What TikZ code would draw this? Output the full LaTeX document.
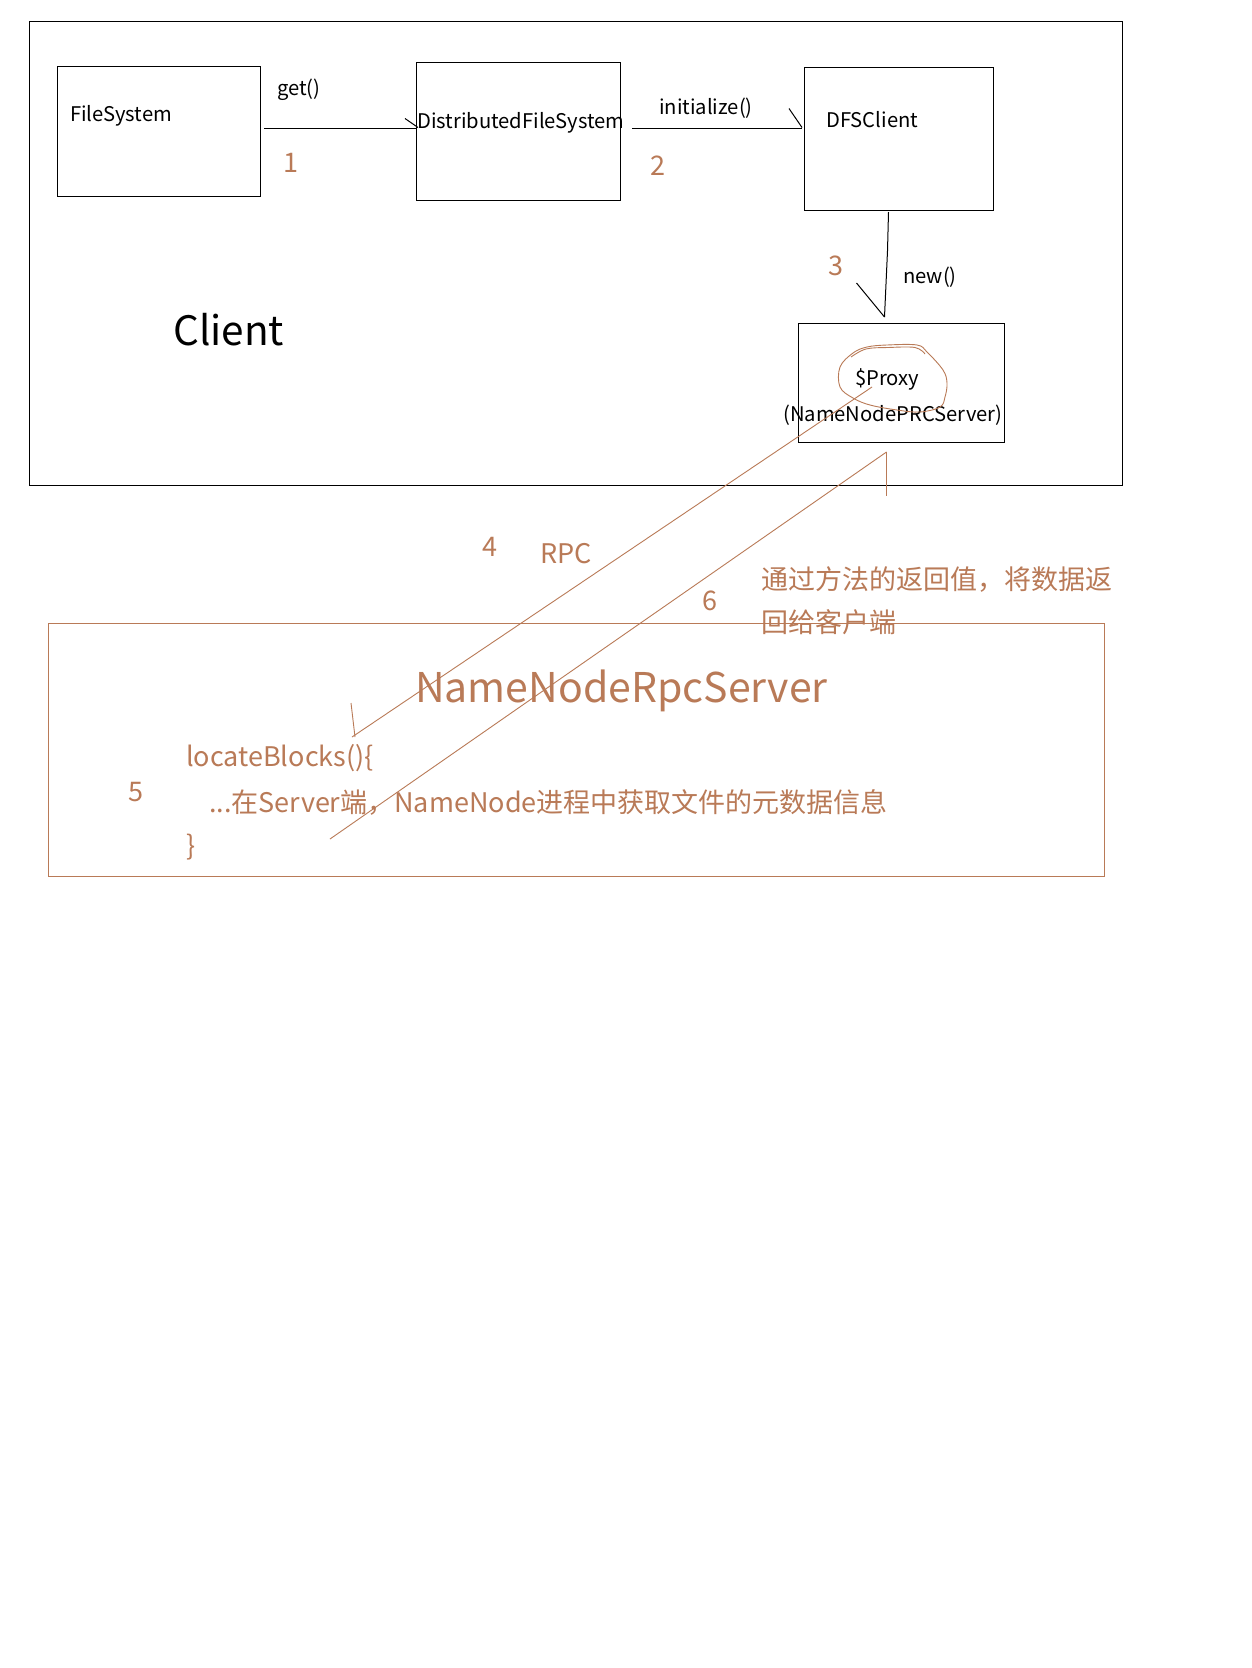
\documentclass[tikz,border=0pt]{standalone}
\usepackage{fontspec}
\setmainfont{Noto Sans CJK SC}
\definecolor{pbrown}{RGB}{185,122,87}
\begin{document}
\begin{tikzpicture}[x=1pt,y=-1pt,
  box/.style={draw, line width=1pt, inner sep=0pt, anchor=north west},
  lbl/.style={anchor=base west, inner sep=0pt, font=\fontsize{20.2}{24}\selectfont},
  olbl/.style={anchor=base west, inner sep=0pt, text=pbrown, font=\fontsize{27}{32}\selectfont},
  bline/.style={draw=black, line width=1pt},
  oline/.style={draw=pbrown, line width=0.9pt}]
\useasboundingbox (0,0) rectangle (1252,1668);
\fill[white] (0,0) rectangle (1252,1668);
% boxes
\node[box, minimum width=1093pt, minimum height=464pt] (client) at (29,21) {};
\node[box, minimum width=203pt, minimum height=130pt] (fs) at (57,66) {};
\node[box, minimum width=204pt, minimum height=138pt] (dfs) at (416,62) {};
\node[box, minimum width=189pt, minimum height=143pt] (dfsc) at (804,67) {};
\node[box, minimum width=206pt, minimum height=119pt] (proxy) at (798,323) {};
\node[box, draw=pbrown, minimum width=1056pt, minimum height=253pt] (server) at (47.5,623) {};
% black labels
\node[lbl] (tfs) at (70,121.5) {FileSystem};
\node[lbl] (tget) at (277,95) {get()};
\node[lbl] (tdfs) at (417,128) {DistributedFileSystem};
\node[lbl] (tinit) at (659,114) {initialize()};
\node[lbl] (tdfsc) at (826,127) {DFSClient};
\node[lbl] (tnew) at (903,283) {new()};
\node[lbl] (tproxy) at (855,385) {\$Proxy};
\node[lbl] (tnnprc) at (783,421) {(NameNodePRCServer)};
\node[anchor=base west, inner sep=0pt, font=\fontsize{40.5}{48}\selectfont] (tclient) at (173,345) {Client};
% orange labels
\node[olbl] (n1) at (283,172) {1};
\node[olbl] (n2) at (650,175) {2};
\node[olbl] (n3) at (828,275) {3};
\node[olbl] (n4) at (482,556) {4};
\node[olbl] (trpc) at (540,563) {RPC};
\node[olbl] (n6) at (702,610) {6};
\node[olbl] (tret1) at (761,589) {通过方法的返回值，将数据返};
\node[olbl] (tret2) at (761,632) {回给客户端};
\node[anchor=base west, inner sep=0pt, text=pbrown, font=\fontsize{41}{48}\selectfont] (tnnrpc) at (415,702) {NameNodeRpcServer};
\node[olbl] (tloc) at (186,766) {locateBlocks()\{};
\node[olbl] (n5) at (128,801) {5};
\node[olbl] (tbody) at (209,812) {...在Server端，NameNode进程中获取文件的元数据信息};
\node[olbl] (tclose) at (186,855) {\}};
% connector 1
\draw[bline] ([xshift=3pt,yshift=3pt]fs.east) -- ([yshift=3pt]dfs.west);
\draw[bline] ([xshift=-11pt,yshift=13pt]dfs.west) -- ([xshift=2pt,yshift=4pt]dfs.west);
% connector 2
\draw[bline] ([xshift=11pt,yshift=3pt]dfs.east) -- ([xshift=-2pt,yshift=10.5pt]dfsc.west);
\draw[bline] ([xshift=-15pt,yshift=30.5pt]dfsc.west) -- ([xshift=-2pt,yshift=11.5pt]dfsc.west);
% connector 3
\draw[bline] ([xshift=-10.5pt,yshift=-1pt]dfsc.south) -- ([xshift=-11.5pt,yshift=-40pt]dfsc.south) -- ([xshift=-17pt,yshift=6pt]proxy.north);
\draw[bline] ([xshift=-45pt,yshift=40pt]proxy.north) -- ([xshift=-17pt,yshift=6pt]proxy.north);
% circle around $Proxy
\draw[oline] plot[smooth cycle, tension=0.6] coordinates {(840,367) (853,353) (867,347) (887,345) (917,345) (927,352) (943,370) (947,383) (945,397) (940,407) (920,412) (897,410) (870,405) (853,398) (840,387)};
\draw[oline] plot[smooth, tension=0.6] coordinates {(851,357) (866,349) (888,347.5) (915,347.5) (925,354)};
% connector 4 (RPC)
\draw[oline] ([xshift=74pt,yshift=-64pt]proxy.north west) -- ([xshift=166pt,yshift=29pt]tloc.base west);
\draw[oline] ([xshift=165pt,yshift=63pt]tloc.base west) -- ([xshift=169pt,yshift=29pt]tloc.base west);
% connector 6 (return)
\draw[oline] ([xshift=121pt,yshift=-27pt]tbody.base west) -- ([xshift=-15pt,yshift=-9pt]proxy.south);
\draw[oline] ([xshift=-15pt,yshift=-9pt]proxy.south) -- ([xshift=-15pt,yshift=-53pt]proxy.south);
\end{tikzpicture}
\end{document}
